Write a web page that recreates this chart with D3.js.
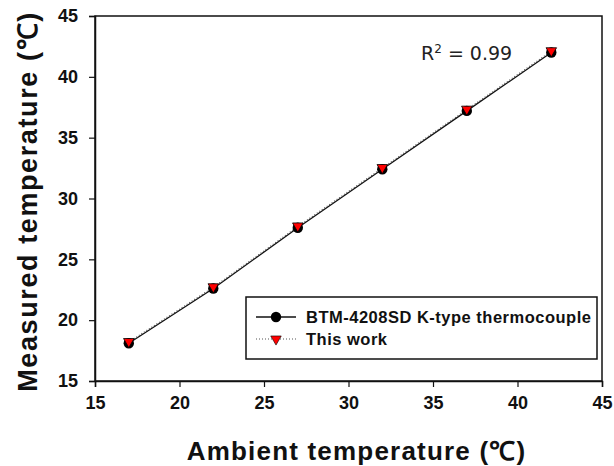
<!DOCTYPE html>
<html lang="en">
<head>
<meta charset="UTF-8">
<title>Temperature calibration</title>
<style>
  body { margin: 0; background: #fff; }
  svg { display: block; }
</style>
</head>
<body>
<svg id="chart"></svg>
<script src="https://d3js.org/d3.v7.min.js"></script>
<script>
// values
const ambient = [17, 22, 27, 32, 37, 42];
const btm = [18.1, 22.6, 27.6, 32.4, 37.2, 42.0];      // BTM-4208SD K-type thermocouple
const thisWork = [18.2, 22.7, 27.7, 32.5, 37.3, 42.1]; // This work
const xTicks = [15, 20, 25, 30, 35, 40, 45];
const yTicks = [15, 20, 25, 30, 35, 40, 45];
const seriesNames = ["BTM-4208SD K-type thermocouple", "This work"];

const width = 614, height = 466;
const margin = { top: 16, right: 12, bottom: 85, left: 95 };

const svg = d3.select("#chart")
  .attr("width", width)
  .attr("height", height)
  .attr("viewBox", [0, 0, width, height]);

const x = d3.scaleLinear().domain([15, 45]).range([margin.left, width - margin.right]);
const y = d3.scaleLinear().domain([15, 45]).range([height - margin.bottom, margin.top]);

const tickFont = "'Liberation Sans', Arial, sans-serif";

// frame
svg.append("rect")
  .attr("x", x(15)).attr("y", y(45))
  .attr("width", x(45) - x(15)).attr("height", y(15) - y(45))
  .attr("fill", "none").attr("stroke", "#111").attr("stroke-width", 1.5);

// x axis
svg.append("g")
  .attr("transform", `translate(0,${y(15)})`)
  .call(d3.axisBottom(x).tickValues(xTicks).tickSize(6).tickPadding(9).tickFormat(d3.format("d")))
  .call(g => g.select(".domain").attr("stroke", "#111").attr("stroke-width", 1.5))
  .call(g => g.selectAll(".tick line").attr("stroke", "#111").attr("stroke-width", 1.2))
  .call(g => g.selectAll(".tick text")
    .attr("font-family", tickFont).attr("font-weight", "bold")
    .attr("font-size", 18).attr("fill", "#111"));

// y axis
svg.append("g")
  .attr("transform", `translate(${x(15)},0)`)
  .call(d3.axisLeft(y).tickValues(yTicks).tickSize(6).tickPadding(11).tickFormat(d3.format("d")))
  .call(g => g.select(".domain").attr("stroke", "#111").attr("stroke-width", 1.5))
  .call(g => g.selectAll(".tick line").attr("stroke", "#111").attr("stroke-width", 1.2))
  .call(g => g.selectAll(".tick text")
    .attr("font-family", tickFont).attr("font-weight", "bold")
    .attr("font-size", 18).attr("fill", "#111"));

// axis titles
svg.append("text")
  .attr("x", (x(15) + x(45)) / 2 + 8)
  .attr("y", 460)
  .attr("text-anchor", "middle")
  .attr("font-family", tickFont).attr("font-weight", "bold")
  .attr("font-size", 26).attr("fill", "#111")
  .attr("letter-spacing", 1.2)
  .text("Ambient temperature (℃)");

svg.append("text")
  .attr("transform", `translate(37,${(y(15) + y(45)) / 2 + 3}) rotate(-90)`)
  .attr("text-anchor", "middle")
  .attr("font-family", tickFont).attr("font-weight", "bold")
  .attr("font-size", 27).attr("fill", "#111")
  .attr("letter-spacing", 1.6)
  .text("Measured temperature (℃)");

// lines
const btmData = ambient.map((a, i) => [a, btm[i]]);
const workData = ambient.map((a, i) => [a, thisWork[i]]);
const line = d3.line().x(d => x(d[0])).y(d => y(d[1]));

svg.append("path")
  .datum(btmData)
  .attr("d", line)
  .attr("fill", "none").attr("stroke", "#111").attr("stroke-width", 1.3);

svg.append("path")
  .datum(workData)
  .attr("d", line)
  .attr("fill", "none").attr("stroke", "#555").attr("stroke-width", 1.2)
  .attr("stroke-dasharray", "1,2");

const tri = d3.symbol().type(d3.symbolTriangle).size(48);

// markers
svg.append("g")
  .selectAll("circle")
  .data(btmData)
  .join("circle")
  .attr("cx", d => x(d[0]))
  .attr("cy", d => y(d[1]))
  .attr("r", 5.2)
  .attr("fill", "#000");

svg.append("g")
  .selectAll("path")
  .data(workData)
  .join("path")
  .attr("d", tri)
  .attr("transform", d => `translate(${x(d[0])},${y(d[1]) - 0.5}) rotate(180)`)
  .attr("fill", "#f00")
  .attr("stroke", "#000").attr("stroke-width", 0.8);

// R² annotation
svg.append("text")
  .attr("x", 421).attr("y", 60)
  .attr("font-family", "'DejaVu Sans', sans-serif")
  .attr("font-size", 19).attr("fill", "#222")
  .call(t => t.append("tspan").text("R"))
  .call(t => t.append("tspan").attr("dy", -7).attr("font-size", 12).text("2"))
  .call(t => t.append("tspan").attr("dy", 7).text(" = 0.99"));

// legend
const legend = svg.append("g").attr("transform", "translate(246,297)");
legend.append("rect")
  .attr("width", 351).attr("height", 62)
  .attr("fill", "#fff").attr("stroke", "#111").attr("stroke-width", 1.5);

const rows = [20, 42];
legend.append("line")
  .attr("x1", 10).attr("x2", 50).attr("y1", rows[0]).attr("y2", rows[0])
  .attr("stroke", "#111").attr("stroke-width", 1.3);
legend.append("circle")
  .attr("cx", 30).attr("cy", rows[0]).attr("r", 5.2).attr("fill", "#000");
legend.append("line")
  .attr("x1", 10).attr("x2", 50).attr("y1", rows[1]).attr("y2", rows[1])
  .attr("stroke", "#555").attr("stroke-width", 1.2).attr("stroke-dasharray", "1,2");
legend.append("path")
  .attr("d", tri)
  .attr("transform", `translate(30,${rows[1]}) rotate(180)`)
  .attr("fill", "#f00").attr("stroke", "#000").attr("stroke-width", 0.6);

legend.selectAll("text.lab")
  .data(seriesNames)
  .join("text")
  .attr("class", "lab")
  .attr("x", 60)
  .attr("y", (d, i) => rows[i])
  .attr("dy", "0.36em")
  .attr("font-family", tickFont).attr("font-weight", "bold")
  .attr("font-size", 16.5).attr("fill", "#111")
  .attr("letter-spacing", 0.5)
  .text(d => d);
</script>
</body>
</html>
